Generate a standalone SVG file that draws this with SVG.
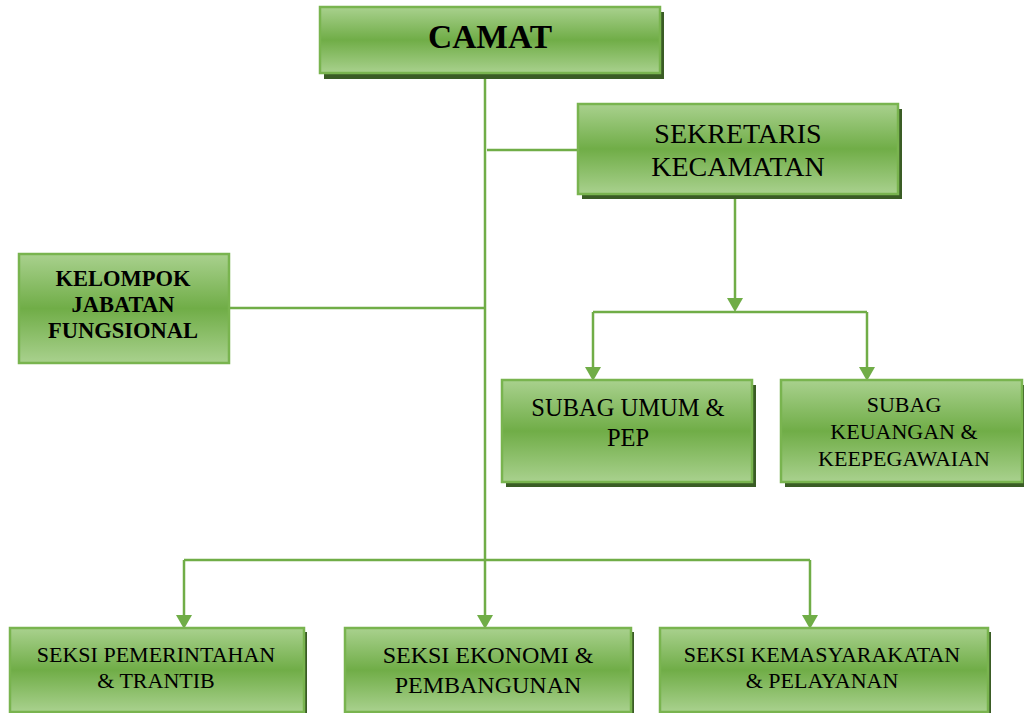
<svg xmlns="http://www.w3.org/2000/svg" width="1024" height="713" viewBox="0 0 1024 713">
<defs>
<linearGradient id="g" x1="0" y1="0" x2="0" y2="1">
<stop offset="0" stop-color="#a9d18e"/>
<stop offset="0.5" stop-color="#70ad47"/>
<stop offset="1" stop-color="#a9d18e"/>
</linearGradient>
<marker id="arr" markerUnits="userSpaceOnUse" markerWidth="14" markerHeight="16" viewBox="0 0 14 16" refX="7" refY="8" orient="auto">
<path d="M0,0 L14,8 L0,16 z" fill="#70ad47"/>
</marker>
<style>
.box{fill:url(#g);stroke:#79b44f;stroke-width:2.5}
.sh{fill:#3a5c25}
.ln{fill:none;stroke:#70ad47;stroke-width:2.5}
.t{font-family:"Liberation Serif","Times New Roman",serif;fill:#000;text-anchor:middle}
.b{font-weight:bold}
</style>
</defs>
<rect width="1024" height="713" fill="#fff"/>
<g id="connectors">
<path class="ln" d="M485,73 V622" marker-end="url(#arr)"/>
<path class="ln" d="M487,150 H578"/>
<path class="ln" d="M229,308 H485"/>
<path class="ln" d="M735,196 V305" marker-end="url(#arr)"/>
<path class="ln" d="M593,312 H867"/>
<path class="ln" d="M593,312 V374" marker-end="url(#arr)"/>
<path class="ln" d="M867,312 V374" marker-end="url(#arr)"/>
<path class="ln" d="M810,560 H184"/>
<path class="ln" d="M184,560 V622" marker-end="url(#arr)"/>
<path class="ln" d="M810,560 V622" marker-end="url(#arr)"/>
</g>
<g id="camat">
<rect class="sh" x="324" y="12" width="340" height="67"/>
<rect class="box" x="320" y="7" width="340" height="66"/>
<text class="t b" x="490" y="48" font-size="33.5">CAMAT</text>
</g>
<g id="sekretaris">
<rect class="sh" x="582" y="109" width="320" height="90"/>
<rect class="box" x="578" y="104" width="320" height="90"/>
<text class="t" x="738" y="143" font-size="28">SEKRETARIS</text>
<text class="t" x="738" y="176" font-size="28">KECAMATAN</text>
</g>
<g id="kelompok">
<rect class="box" x="19" y="254" width="210" height="109"/>
<text class="t b" x="123" y="286" font-size="22.5">KELOMPOK</text>
<text class="t b" x="123" y="312" font-size="22.5">JABATAN</text>
<text class="t b" x="123" y="338" font-size="22.5">FUNGSIONAL</text>
</g>
<g id="subag-umum">
<rect class="sh" x="506" y="385" width="250" height="102"/>
<rect class="box" x="502" y="380" width="250" height="102"/>
<text class="t" x="628" y="416" font-size="24.5">SUBAG UMUM &amp;</text>
<text class="t" x="628" y="446" font-size="24.5">PEP</text>
</g>
<g id="subag-keuangan">
<rect class="sh" x="785" y="385" width="241" height="102"/>
<rect class="box" x="781" y="380" width="241" height="102"/>
<text class="t" x="904" y="412" font-size="22">SUBAG</text>
<text class="t" x="904" y="439" font-size="22">KEUANGAN &amp;</text>
<text class="t" x="904" y="466" font-size="22">KEEPEGAWAIAN</text>
</g>
<g id="seksi-pemerintahan">
<rect class="sh" x="13" y="632" width="294" height="84"/>
<rect class="box" x="10" y="628" width="294" height="84"/>
<text class="t" x="156" y="662" font-size="22">SEKSI PEMERINTAHAN</text>
<text class="t" x="156" y="688" font-size="22">&amp; TRANTIB</text>
</g>
<g id="seksi-ekonomi">
<rect class="sh" x="348" y="632" width="286" height="84"/>
<rect class="box" x="345" y="628" width="286" height="84"/>
<text class="t" x="488" y="663" font-size="24">SEKSI EKONOMI &amp;</text>
<text class="t" x="488" y="693" font-size="24">PEMBANGUNAN</text>
</g>
<g id="seksi-kemasyarakatan">
<rect class="sh" x="663" y="632" width="328" height="84"/>
<rect class="box" x="660" y="628" width="328" height="84"/>
<text class="t" x="822" y="662" font-size="22">SEKSI KEMASYARAKATAN</text>
<text class="t" x="822" y="688" font-size="22">&amp; PELAYANAN</text>
</g>
</svg>
